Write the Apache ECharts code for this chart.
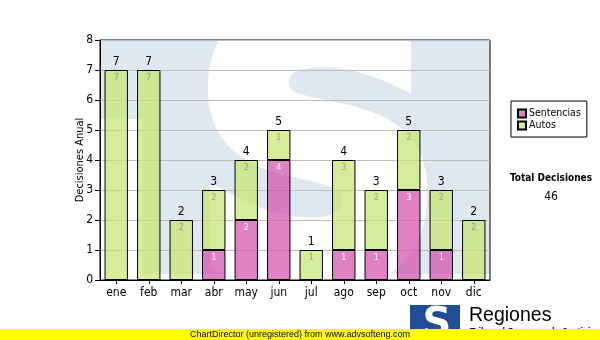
<!DOCTYPE html>
<html>
<head>
<meta charset="utf-8">
<script src="https://cdn.jsdelivr.net/npm/echarts@6/dist/echarts.min.js"></script>
<style>
  html, body { margin: 0; padding: 0; background: #fff; }
  #chart { width: 600px; height: 340px; }
</style>
</head>
<body>
<div id="chart"></div>
<script>
// Monthly decisions, stacked by type
const months = ['ene', 'feb', 'mar', 'abr', 'may', 'jun', 'jul', 'ago', 'sep', 'oct', 'nov', 'dic'];
const sentencias = [0, 0, 0, 1, 2, 4, 0, 1, 1, 3, 1, 0];
const autos = [7, 7, 2, 2, 2, 1, 1, 3, 2, 2, 2, 2];
const yTicks = [0, 1, 2, 3, 4, 5, 6, 7, 8];

const totals = months.map((m, i) => sentencias[i] + autos[i]);
const grandTotal = totals.reduce((a, b) => a + b, 0);

const UI_FONT = 'Tahoma, "DejaVu Sans Condensed", "Noto Sans", sans-serif';
const PLOT = { left: 100, top: 40, right: 490, bottom: 280 };
const WASH = '#dfe8f1';

const chart = echarts.init(document.getElementById('chart'), null, { renderer: 'canvas' });

const hideZero = p => (p.value ? String(p.value) : '');

chart.setOption({
  animation: false,
  backgroundColor: '#ffffff',
  textStyle: { fontFamily: UI_FONT },
  grid: {
    left: PLOT.left, top: PLOT.top,
    right: 600 - PLOT.right, bottom: 340 - PLOT.bottom,
    containLabel: false, outerBoundsMode: 'none',
    show: true, borderColor: '#000', borderWidth: 1, backgroundColor: 'transparent'
  },
  legend: {
    orient: 'vertical',
    left: 511, top: 101,
    data: ['Sentencias', 'Autos'],
    icon: 'rect',
    itemWidth: 8, itemHeight: 8, itemGap: 1,
    padding: [7, 6, 6, 6],
    borderColor: '#000', borderWidth: 1, borderRadius: 0,
    backgroundColor: '#fff',
    textStyle: { fontFamily: UI_FONT, fontSize: 10.5, color: '#000', padding: [0, 0, 0, -2] }
  },
  xAxis: {
    type: 'category',
    data: months,
    axisLine: { show: true, lineStyle: { color: '#000', width: 1 } },
    axisTick: { show: true, alignWithLabel: true, length: 4, lineStyle: { color: '#000' } },
    axisLabel: { color: '#000', fontSize: 12, fontFamily: UI_FONT, margin: 7, interval: 0 },
    splitLine: { show: false }
  },
  yAxis: {
    type: 'value',
    min: yTicks[0], max: yTicks[yTicks.length - 1], interval: 1,
    name: 'Decisiones Anual',
    nameLocation: 'middle', nameGap: 14, nameRotate: 90, nameMoveOverlap: false,
    nameTextStyle: { color: '#000', fontSize: 11, fontFamily: UI_FONT },
    axisLine: { show: true, lineStyle: { color: '#000', width: 1 } },
    axisTick: { show: true, inside: false, length: 5, lineStyle: { color: '#000' } },
    axisLabel: { color: '#000', fontSize: 12, fontFamily: UI_FONT, margin: 7 },
    splitLine: { show: true, lineStyle: { color: '#bdbdbd', width: 1 } }
  },
  series: [
    {
      name: 'Sentencias', type: 'bar', stack: 'total', barWidth: '72%',
      data: sentencias,
      itemStyle: { color: 'rgba(210,80,170,0.72)', borderColor: '#000', borderWidth: 1 },
      label: { show: true, position: 'insideTop', distance: 3, color: '#fff', fontSize: 9, fontFamily: UI_FONT, formatter: hideZero }
    },
    {
      name: 'Autos', type: 'bar', stack: 'total', barWidth: '72%',
      data: autos,
      itemStyle: { color: 'rgba(200,230,110,0.70)', borderColor: '#000', borderWidth: 1 },
      label: { show: true, position: 'insideTop', distance: 3, color: '#9a9a9a', fontSize: 9, fontFamily: UI_FONT, formatter: hideZero }
    },
    {
      name: 'Total', type: 'bar', stack: 'total', barWidth: '72%',
      data: totals.map(() => 0),
      itemStyle: { color: 'rgba(0,0,0,0)', borderWidth: 0 },
      label: {
        show: true, position: 'top', distance: 2, color: '#000', fontSize: 12, fontFamily: UI_FONT,
        formatter: p => String(totals[p.dataIndex])
      },
      tooltip: { show: false }
    }
  ],
  graphic: [
    // pale emblem washed into the plot area
    { type: 'rect', z: -20, silent: true,
      shape: { x: PLOT.left, y: PLOT.top, width: PLOT.right - PLOT.left, height: 79 },
      style: { fill: WASH } },
    { type: 'rect', z: -20, silent: true,
      shape: { x: 143, y: PLOT.top + 79, width: PLOT.right - 143, height: 274 - PLOT.top - 79 },
      style: { fill: WASH } },
    { type: 'text', z: -15, silent: true, x: 318, y: 180, scaleX: 0.95,
      style: { text: 'S', font: 'bold 360px "DejaVu Sans"', fill: '#ffffff',
               stroke: '#ffffff', lineWidth: 24, lineJoin: 'round',
               align: 'center', verticalAlign: 'middle' } },
    // keep the emblem inside the plot frame
    { type: 'rect', z: -5, silent: true, shape: { x: 0, y: 0, width: 600, height: PLOT.top }, style: { fill: '#fff' } },
    { type: 'rect', z: -5, silent: true, shape: { x: 0, y: PLOT.bottom, width: 600, height: 340 - PLOT.bottom }, style: { fill: '#fff' } },
    { type: 'rect', z: -5, silent: true, shape: { x: 0, y: 0, width: PLOT.left, height: 340 }, style: { fill: '#fff' } },
    { type: 'rect', z: -5, silent: true, shape: { x: PLOT.right, y: 0, width: 110, height: 340 }, style: { fill: '#fff' } },

    // grand total
    { type: 'text', z: 10, x: 551, y: 178,
      style: { text: 'Total Decisiones', font: 'bold 10px ' + UI_FONT, fill: '#000', align: 'center', verticalAlign: 'middle' } },
    { type: 'text', z: 10, x: 551, y: 197,
      style: { text: String(grandTotal), font: '12px ' + UI_FONT, fill: '#000', align: 'center', verticalAlign: 'middle' } },

    // corner logo
    { type: 'rect', z: 10, shape: { x: 410, y: 305, width: 50, height: 35 }, style: { fill: '#1f4e96' } },
    { type: 'text', z: 11, x: 437, y: 326,
      style: { text: 'S', font: 'bold 40px "DejaVu Sans"', fill: '#fff', align: 'center', verticalAlign: 'middle' } },
    { type: 'text', z: 10, x: 469, y: 316,
      style: { text: 'Regiones', font: '19.5px "Liberation Sans", Arial, sans-serif', fill: '#000', align: 'left', verticalAlign: 'middle' } },
    { type: 'text', z: 10, x: 470, y: 327,
      style: { text: 'Tribunal Supremo de Justicia', font: 'bold 9px "Liberation Sans", Arial, sans-serif', fill: '#000', align: 'left', verticalAlign: 'top' } },

    // footer band
    { type: 'rect', z: 20, shape: { x: 0, y: 329, width: 600, height: 11 }, style: { fill: '#ffff00' } },
    { type: 'text', z: 21, x: 300, y: 334.5,
      style: { text: 'ChartDirector (unregistered) from www.advsofteng.com', font: '9px "Liberation Sans", Arial, sans-serif', fill: '#000', align: 'center', verticalAlign: 'middle' } }
  ]
});
</script>
</body>
</html>
